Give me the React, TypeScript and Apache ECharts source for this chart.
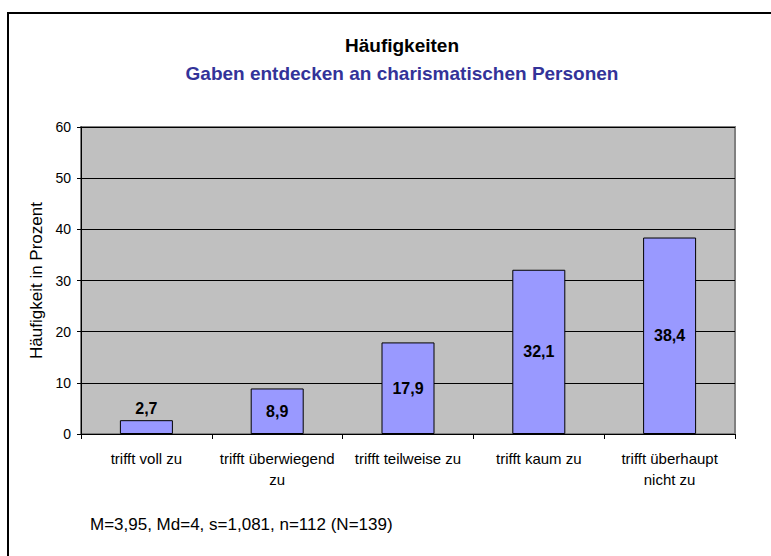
import React, { useEffect, useRef } from "react";
import * as echarts from "echarts";

const categories = [
  "trifft voll zu",
  "trifft überwiegend\nzu",
  "trifft teilweise zu",
  "trifft kaum zu",
  "trifft überhaupt\nnicht zu",
];
const values = [2.7, 8.9, 17.9, 32.1, 38.4];
const yTicks = { min: 0, max: 60, interval: 10 };
const titleText = "Häufigkeiten";
const subtitleText = "Gaben entdecken an charismatischen Personen";
const yAxisName = "Häufigkeit in Prozent";
const footnote = "M=3,95, Md=4, s=1,081, n=112 (N=139)";

const FONT = "'Liberation Sans', Arial, sans-serif";

export default function App() {
  const ref = useRef<HTMLDivElement>(null);
  useEffect(() => {
    if (!ref.current) return;
    const chart = echarts.init(ref.current, null, { renderer: "svg" });
    chart.setOption({
      animation: false,
      backgroundColor: "#ffffff",
      title: [
        {
          text: titleText,
          left: 397,
          textAlign: "center",
          top: 31,
          textStyle: { fontFamily: FONT, fontSize: 19, fontWeight: "bold", color: "#000000" },
        },
        {
          text: subtitleText,
          left: 397,
          textAlign: "center",
          top: 59,
          textStyle: { fontFamily: FONT, fontSize: 19, fontWeight: "bold", color: "#333399" },
        },
      ],
      grid: {
        left: 81,
        top: 127,
        width: 654,
        height: 307,
        show: true,
        backgroundColor: "#C0C0C0",
        borderColor: "#808080",
        borderWidth: 2,
      },
      xAxis: {
        type: "category",
        data: categories,
        axisLine: { show: true, lineStyle: { color: "#000000", width: 1 } },
        axisTick: { show: true, alignWithLabel: false, length: 5, lineStyle: { color: "#000000" } },
        axisLabel: {
          interval: 0,
          margin: 14,
          fontFamily: FONT,
          fontSize: 15,
          lineHeight: 21,
          color: "#000000",
        },
      },
      yAxis: {
        type: "value",
        min: yTicks.min,
        max: yTicks.max,
        interval: yTicks.interval,
        name: yAxisName,
        nameLocation: "middle",
        nameGap: 35,
        nameTextStyle: { fontFamily: FONT, fontSize: 17, color: "#000000" },
        axisLine: { show: true, lineStyle: { color: "#000000", width: 1 } },
        axisTick: { show: true, length: 4, lineStyle: { color: "#000000" } },
        axisLabel: { margin: 10, fontFamily: FONT, fontSize: 14, color: "#000000" },
        splitLine: { show: true, lineStyle: { color: "#000000", width: 1 } },
      },
      series: [
        {
          type: "bar",
          barWidth: 53,
          data: values.map((v, i) => ({
            value: v,
            label: i === 0 ? { position: "top", distance: 4 } : undefined,
          })),
          itemStyle: { color: "#9999FF", borderColor: "#000000", borderWidth: 1 },
          label: {
            show: true,
            position: "inside",
            fontFamily: FONT,
            fontSize: 16,
            fontWeight: "bold",
            color: "#000000",
            formatter: (p: any) => String(p.value).replace(".", ","),
          },
        },
      ],
      graphic: [
        {
          type: "polyline",
          shape: { points: [[8, 556], [8, 13], [771, 13]] },
          style: { stroke: "#000000", lineWidth: 2, fill: "none" },
        },
        {
          type: "text",
          left: 90,
          top: 516,
          style: { text: footnote, fontFamily: FONT, fontSize: 17, fill: "#000000" },
        },
      ],
    });
    return () => chart.dispose();
  }, []);
  return (
    <div
      ref={ref}
      style={{ position: "absolute", left: 0, top: 0, width: 771, height: 556 }}
    />
  );
}
